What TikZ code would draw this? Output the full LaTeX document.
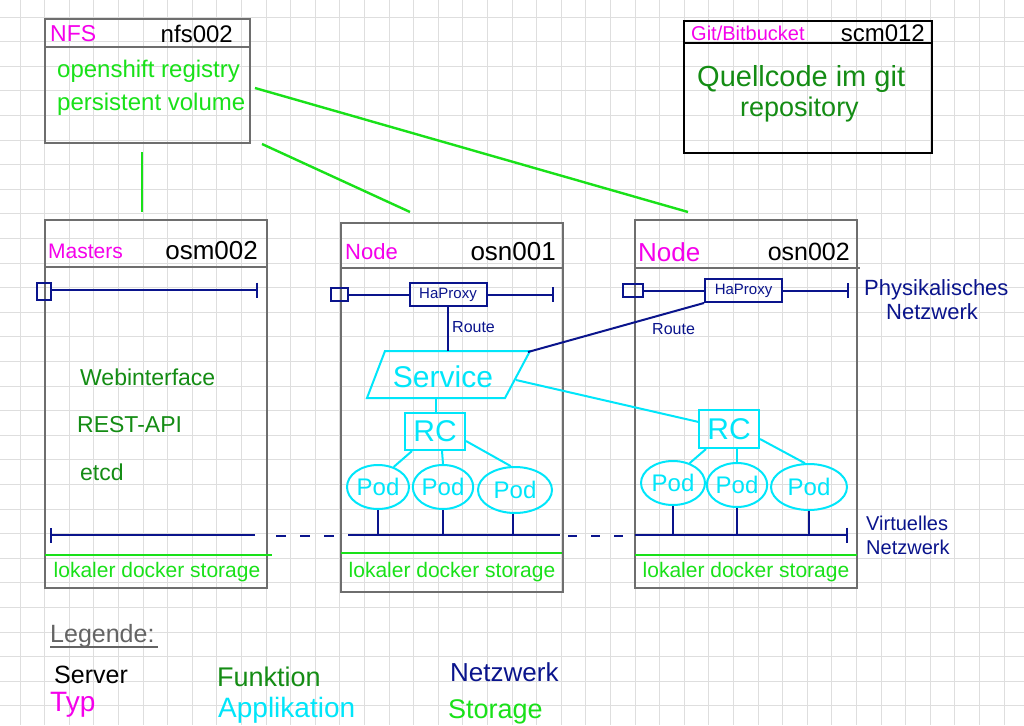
\documentclass[tikz,border=0pt]{standalone}
\usepackage{fontspec}
\setmainfont{Liberation Sans}
\usetikzlibrary{arrows.meta,shapes.geometric}
\definecolor{gridc}{RGB}{222,222,222}
\definecolor{boxgray}{RGB}{110,110,110}
\definecolor{typmag}{RGB}{245,0,235}
\definecolor{funcgreen}{RGB}{20,140,20}
\definecolor{storgreen}{RGB}{25,225,25}
\definecolor{netblue}{RGB}{10,20,140}
\definecolor{appcyan}{RGB}{0,230,250}
\definecolor{leggray}{RGB}{100,100,100}
\tikzset{
  fs/.style={font=\fontsize{#1}{#1}\selectfont},
  gridline/.style={draw=gridc, line width=0.9pt},
  srvbox/.style={draw=boxgray, line width=2.5pt, rectangle, inner sep=0pt, minimum width=#1},
  sep/.style={draw=boxgray, line width=2.2pt},
  typ/.style={text=typmag, anchor=west, inner sep=0pt, fs=21},
  srv/.style={text=black, anchor=east, inner sep=0pt, fs=26},
  func/.style={text=funcgreen, anchor=west, inner sep=0pt, fs=23},
  stor/.style={text=storgreen, inner sep=0pt, fs=21},
  stline/.style={draw=storgreen, line width=2.4pt},
  netline/.style={draw=netblue, line width=2pt},
  nettext/.style={text=netblue, anchor=west, inner sep=0pt},
  portbox/.style={draw=netblue, line width=2pt, rectangle, inner sep=0pt},
  haproxy/.style={draw=netblue, line width=2pt, rectangle, inner sep=0pt, text=netblue, fs=15, minimum width=77, minimum height=23},
  appline/.style={draw=appcyan, line width=2pt},
  rcbox/.style={draw=appcyan, line width=2pt, rectangle, inner sep=0pt, text=appcyan, fs=30, minimum width=60, minimum height=37},
  pod/.style={draw=appcyan, line width=2pt, ellipse, inner sep=0pt, text=appcyan, fs=24},
  tick/.style={-{Bar[width=15pt]}},
  ticks/.style={{Bar[width=15pt]}-},
}
\begin{document}
\begin{tikzpicture}[x=1pt,y=-1pt]
\useasboundingbox (0,0) rectangle (1024,725);
\fill[white] (0,0) rectangle (1024,725);
\begin{scope}
\clip (0,0) rectangle (1024,725);
\foreach \i in {0,...,41} \draw[gridline] ({20+24.6*\i},0) -- ({20+24.6*\i},725);
\foreach \j in {0,...,29} \draw[gridline] (0,{17+24.6*\j}) -- (1024,{17+24.6*\j});
\end{scope}

% ---------- NFS box
\node[srvbox=205, minimum height=124] (nfs) at (147.5,81) {};
\draw[sep] (45,47) -- (250,47);
\node[typ, fs=23] (nfstyp) at (50,34) {NFS};
\node[srv, fs=24] (nfsname) at (233,34) {nfs002};
\node[stor, anchor=west, fs=24] (nfs1) at (57,71) {openshift registry};
\node[stor, anchor=west, fs=24] (nfs2) at (57,104) {persistent volume};

% ---------- Git box
\node[draw=black, line width=2.5pt, rectangle, inner sep=0pt, minimum width=248, minimum height=132] (git) at (808,87) {};
\draw[draw=black, line width=2.2pt] (684,43) -- (932,43);
\node[typ, fs=20] (gittyp) at (691,33) {Git/Bitbucket};
\node[srv, fs=24] (gitname) at (925,33) {scm012};
\node[func, fs=29] (git1) at (697,79) {Quellcode im git};
\node[func, fs=27] (git2) at (740,110) {repository};

% ---------- Master box
\node[srvbox=222, minimum height=368] (master) at (156,404) {};
\draw[sep] (45,267) -- (267,267);
\node[typ] (mtyp) at (48,251) {Masters};
\node[srv] (mname) at (258,251) {osm002};
\node[portbox, minimum width=14, minimum height=17] (mport) at (44,291.5) {};
\coordinate (mpend) at (258,290);
\draw[netline, tick] (mport.east |- mpend) -- (mpend);
\node[func] (web) at (80,377) {Webinterface};
\node[func] (rest) at (77,425) {REST-API};
\node[func] (etcd) at (80,472) {etcd};
\coordinate (mv1) at (50,535);
\coordinate (mv2) at (255,535);
\draw[netline, ticks] (mv1) -- (mv2);
\coordinate (ms1) at (45,555);
\coordinate (ms2) at (272,555);
\draw[stline] (ms1) -- (ms2);
\node[stor] (mstor) at (157,572) {lokaler docker storage};

% ---------- Node 1
\node[srvbox=222, minimum height=369] (node1) at (452,407.5) {};
\draw[sep] (341,268) -- (563,268);
\node[typ, fs=22] (n1typ) at (345,252) {Node};
\node[srv] (n1name) at (556,252) {osn001};
\node[haproxy] (ha1) at (448,294.5) {HaProxy};
\node[portbox, minimum width=17, minimum height=13] (port1) at (339.5,294.5) {};
\coordinate (n1pend) at (554,294.5);
\draw[netline] (port1.east) -- (ha1.west);
\draw[netline, tick] (ha1.east) -- (n1pend);
\draw[appline] (385,351) -- (530,351) -- (505,398) -- (367,398) -- cycle;
\coordinate (svctop) at (448,351);
\coordinate (svcbot) at (436,398);
\coordinate (svctr) at (528,352);
\coordinate (svcr) at (516,380);
\node[text=appcyan, inner sep=0pt, fs=30] (svc) at (443,377) {Service};
\draw[netline] (ha1.south) -- (svctop);
\node[nettext, fs=16] (route1) at (452,327) {Route};
\node[rcbox] (rc1) at (435,431.5) {RC};
\draw[appline] (svcbot) -- (svcbot |- rc1.north);
\node[pod, minimum width=62, minimum height=44] (p1) at (378,487) {Pod};
\node[pod, minimum width=60, minimum height=44] (p2) at (443,487) {Pod};
\node[pod, minimum width=74, minimum height=46] (p3) at (515,490) {Pod};
\draw[appline] (rc1.south west) ++(8,0) -- (p1.52);
\draw[appline] (rc1.south) ++(7,0) -- (p2.north);
\draw[appline] (rc1.south east) ++(0,-10) -- (p3.100);
\coordinate (n1v1) at (348,535);
\coordinate (n1v2) at (560,535);
\draw[netline] (n1v1) -- (n1v2);
\draw[netline] (p1.south) -- (p1.south |- n1v1);
\draw[netline] (p2.south) -- (p2.south |- n1v1);
\draw[netline] ([xshift=-2pt]p3.south) -- ([xshift=-2pt]p3.south |- n1v1);
\coordinate (n1s1) at (341,553);
\coordinate (n1s2) at (562,553);
\draw[stline] (n1s1) -- (n1s2);
\node[stor] (n1stor) at (452,572) {lokaler docker storage};

% ---------- Node 2
\node[srvbox=222, minimum height=368] (node2) at (746,404) {};
\draw[sep] (635,268) -- (860,268);
\node[typ, fs=26] (n2typ) at (638,252) {Node};
\node[srv, fs=25] (n2name) at (850,252) {osn002};
\node[haproxy] (ha2) at (743.5,290.5) {HaProxy};
\node[portbox, minimum width=20, minimum height=13] (port2) at (633,290.5) {};
\coordinate (n2pend) at (849,290.5);
\draw[netline] (port2.east) -- (ha2.west);
\draw[netline, tick] (ha2.east) -- (n2pend);
\node[nettext, fs=16] (route2) at (652,329) {Route};
\node[nettext, fs=22] (phys1) at (864,290) {Physikalisches};
\node[nettext, fs=22] (phys2) at (886,312) {Netzwerk};
\node[rcbox, minimum height=38] (rc2) at (729,429) {RC};
\node[pod, minimum width=64, minimum height=44] (p4) at (673,483) {Pod};
\node[pod, minimum width=60, minimum height=44] (p5) at (737,485) {Pod};
\node[pod, minimum width=76, minimum height=46] (p6) at (809,487) {Pod};
\draw[appline] (rc2.south west) ++(8,0) -- (p4.50);
\draw[appline] (rc2.south) ++(8,0) -- (p5.north);
\draw[appline] (rc2.south east) ++(0,-10) -- (p6.100);
\coordinate (n2v1) at (635,535);
\coordinate (n2v2) at (848,535);
\draw[netline, tick] (n2v1) -- (n2v2);
\draw[netline] (p4.south) -- (p4.south |- n2v1);
\draw[netline] (p5.south) -- (p5.south |- n2v1);
\draw[netline] (p6.south) -- (p6.south |- n2v1);
\node[nettext, fs=20] (virt1) at (866,523) {Virtuelles};
\node[nettext, fs=20] (virt2) at (866,547) {Netzwerk};
\coordinate (n2s1) at (635,555);
\coordinate (n2s2) at (857,555);
\draw[stline] (n2s1) -- (n2s2);
\node[stor] (n2stor) at (746,572) {lokaler docker storage};

% ---------- cross connections
\draw[netline] (svctr) -- (ha2.south west);
\draw[appline] (svcr) -- (rc2.167);
\coordinate (d1a) at (276,536);
\coordinate (d1b) at (341,536);
\draw[netline, dash pattern=on 10pt off 14pt] (d1a) -- (d1b);
\coordinate (d2a) at (568,536);
\coordinate (d2b) at (630,536);
\draw[netline, dash pattern=on 9pt off 14pt] (d2a) -- (d2b);
\coordinate (nfsd) at (142,152);
\coordinate (mastu) at (142,212);
\draw[stline] (nfsd) -- (mastu);
\coordinate (nfsr1) at (262,144);
\coordinate (n1u) at (410,212);
\draw[stline] (nfsr1) -- (n1u);
\coordinate (nfsr2) at (255,88);
\coordinate (n2u) at (688,212);
\draw[stline] (nfsr2) -- (n2u);

% ---------- legend
\node[text=leggray, anchor=west, inner sep=0pt, fs=25] (leg) at (50,636) {Legende:};
\draw[draw=leggray, line width=2pt] (leg.south west) ++(0,-1) -- ++(108,0);
\node[text=black, anchor=west, inner sep=0pt, fs=25] (lserver) at (54,675) {Server};
\node[text=typmag, anchor=west, inner sep=0pt, fs=28] (ltyp) at (50,705) {Typ};
\node[func, fs=27] (lfunk) at (217,677) {Funktion};
\node[text=appcyan, anchor=west, inner sep=0pt, fs=28] (lapp) at (218,710) {Applikation};
\node[nettext, fs=26] (lnet) at (450,672) {Netzwerk};
\node[text=storgreen, anchor=west, inner sep=0pt, fs=27] (lstor) at (448,712) {Storage};
\end{tikzpicture}
\end{document}
